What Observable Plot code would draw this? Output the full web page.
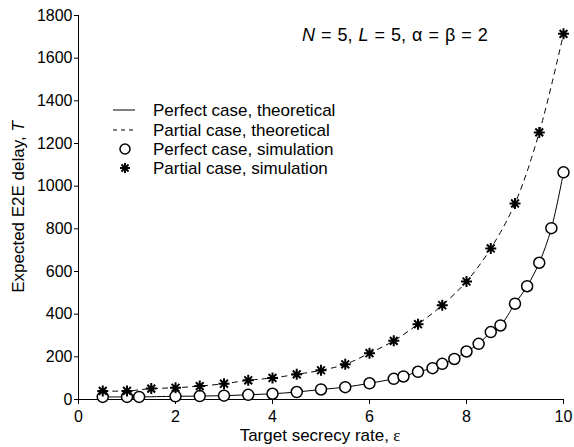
<!DOCTYPE html>
<html>
<head>
<meta charset="utf-8">
<script src="https://cdn.jsdelivr.net/npm/d3@7"></script>
<script src="https://cdn.jsdelivr.net/npm/@observablehq/plot@0.6"></script>
<style>
  html, body { margin: 0; padding: 0; background: #fff; }
  #wrap { position: relative; width: 574px; height: 447px; font-family: Arial, "Liberation Sans", sans-serif; }
  #wrap svg.overlay { position: absolute; left: 0; top: 0; pointer-events: none; }
</style>
</head>
<body>
<div id="wrap"></div>
<script>
// Perfect case (simulation points and theoretical curve through them)
const perfX = [0.5, 1, 1.25, 2, 2.5, 3, 3.5, 4, 4.5, 5, 5.5, 6, 6.5, 6.7, 7, 7.3, 7.5, 7.75, 8, 8.25, 8.5, 8.7, 9, 9.25, 9.5, 9.75, 10];
const perfY = [12, 12, 12, 15, 16, 18, 22, 27, 35, 47, 58, 76, 97, 108, 130, 147, 167, 190, 225, 261, 316, 347, 449, 531, 641, 803, 1065];
// Partial case
const partX = [0.5, 1, 1.5, 2, 2.5, 3, 3.5, 4, 4.5, 5, 5.5, 6, 6.5, 7, 7.5, 8, 8.5, 9, 9.5, 10];
const partY = [40, 40, 51, 55, 63, 74, 90, 101, 118, 137, 165, 217, 275, 353, 442, 553, 708, 919, 1252, 1714];

const xTicks = [0, 2, 4, 6, 8, 10];
const yTicks = [0, 200, 400, 600, 800, 1000, 1200, 1400, 1600, 1800];

const legendLabels = ["Perfect case, theoretical", "Partial case, theoretical", "Perfect case, simulation", "Partial case, simulation"];
const annotation = ["N", " = 5, ", "L", " = 5, α = β = 2"];

const perf = perfX.map((x, i) => ({x, y: perfY[i]}));
const part = partX.map((x, i) => ({x, y: partY[i]}));

const asterisk8 = {
  draw(ctx, size) {
    const r = Math.sqrt(size / Math.PI);
    for (let k = 0; k < 4; k++) {
      const a = k * Math.PI / 4;
      const dx = r * Math.cos(a), dy = r * Math.sin(a);
      ctx.moveTo(-dx, -dy);
      ctx.lineTo(dx, dy);
    }
  }
};

const W = 574, H = 447;
const plot = Plot.plot({
  width: W,
  height: H,
  marginLeft: 78,
  marginRight: 11,
  marginTop: 15,
  marginBottom: 48,
  style: {fontFamily: 'Arial, "Liberation Sans", sans-serif', fontSize: "16px", color: "#000", background: "#fff"},
  x: {domain: [0, 10]},
  y: {domain: [0, 1800]},
  marks: [
    Plot.axisX({ticks: xTicks, tickSize: 5, tickPadding: 6, fontSize: 16, label: null, stroke: "#000", tickFormat: d3.format("d")}),
    Plot.axisY({ticks: yTicks, tickSize: 4, tickPadding: 2, fontSize: 16, label: null, stroke: "#000", tickFormat: d3.format("d")}),
    Plot.ruleY([0], {stroke: "#000", strokeWidth: 1}),
    Plot.ruleX([0], {stroke: "#000", strokeWidth: 1}),
    Plot.line(perf, {x: "x", y: "y", curve: "catmull-rom", stroke: "#000", strokeWidth: 1}),
    Plot.line(part, {x: "x", y: "y", curve: "catmull-rom", stroke: "#000", strokeWidth: 1, strokeDasharray: "5,5"}),
    Plot.dot(perf, {x: "x", y: "y", r: 5.5, stroke: "#000", strokeWidth: 1.5, fill: "#fff"}),
    Plot.dot(part, {x: "x", y: "y", r: 5.5, symbol: asterisk8, stroke: "#000", strokeWidth: 2})
  ]
});

const wrap = document.getElementById("wrap");
wrap.appendChild(plot);

// Overlay: axis labels, annotation, legend
const ov = d3.select(wrap).append("svg").attr("class", "overlay").attr("width", W).attr("height", H)
  .attr("font-family", 'Arial, "Liberation Sans", sans-serif').attr("fill", "#000");

// y label
const yl = ov.append("text").attr("transform", "translate(23.5,207) rotate(-90)").attr("text-anchor", "middle").attr("font-size", 17);
yl.append("tspan").text("Expected E2E delay, ");
yl.append("tspan").attr("font-style", "italic").text("T");

// x label
const xl = ov.append("text").attr("x", 320).attr("y", 441).attr("text-anchor", "middle").attr("font-size", 17);
xl.append("tspan").text("Target secrecy rate,");
xl.append("tspan").attr("font-family", '"Liberation Serif", "DejaVu Serif", serif').text(" ε");

// annotation
const an = ov.append("text").attr("x", 302).attr("y", 41).attr("font-size", 18).attr("word-spacing", 1);
annotation.forEach((s, i) => {
  const t = an.append("tspan").text(s);
  if (i === 0 || i === 2) t.attr("font-style", "italic");
});

// legend
const rows = [110, 130, 149, 168];
legendLabels.forEach((lab, i) => {
  const y = rows[i];
  if (i === 0) ov.append("line").attr("x1", 113).attr("x2", 135).attr("y1", y).attr("y2", y).attr("stroke", "#000");
  if (i === 1) ov.append("line").attr("x1", 113).attr("x2", 137).attr("y1", y).attr("y2", y).attr("stroke", "#000").attr("stroke-dasharray", "4,4");
  if (i === 2) ov.append("circle").attr("cx", 125).attr("cy", y).attr("r", 5).attr("fill", "none").attr("stroke", "#000").attr("stroke-width", 1.5);
  if (i === 3) {
    const p = d3.path(); asterisk8.draw(p, Math.PI * 5 * 5);
    ov.append("path").attr("transform", `translate(125,${y})`).attr("d", p.toString()).attr("stroke", "#000").attr("stroke-width", 2);
  }
  ov.append("text").attr("x", 153).attr("y", y).attr("dy", "0.35em").attr("font-size", 17).text(lab);
});
</script>
</body>
</html>
